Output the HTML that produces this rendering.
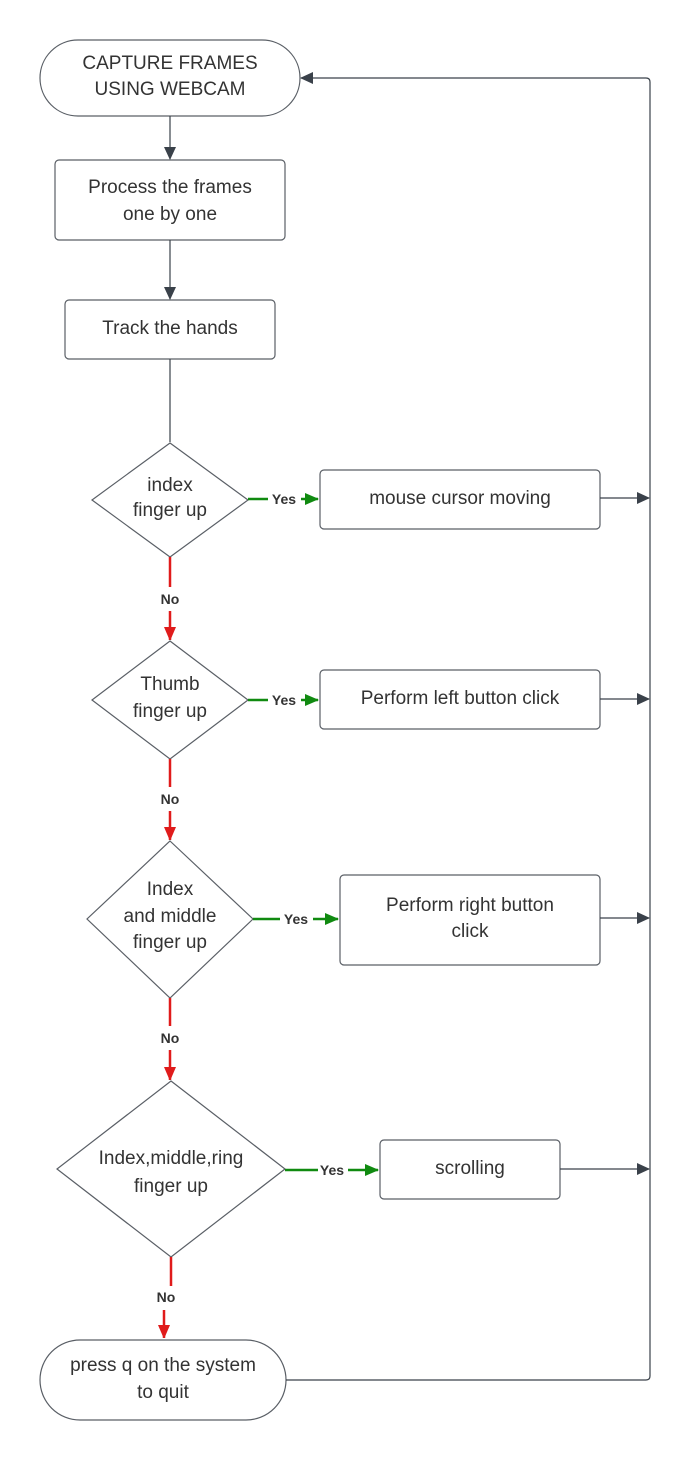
<!DOCTYPE html>
<html><head><meta charset="utf-8"><style>
html,body{margin:0;padding:0;background:#fff;}
svg text{font-family:"Liberation Sans",sans-serif;fill:#333;}
</style></head><body>
<svg width="691" height="1460" viewBox="0 0 691 1460" xmlns="http://www.w3.org/2000/svg">
<defs>
<marker id="ag" markerWidth="13" markerHeight="12" refX="12" refY="6" orient="auto" markerUnits="userSpaceOnUse"><path d="M0,0 L13,6 L0,12 z" fill="#3a414a"/></marker>
<marker id="ar" markerWidth="12" markerHeight="14" refX="13" refY="6" orient="auto" markerUnits="userSpaceOnUse"><path d="M0,0 L14,6 L0,12 z" fill="#e01b1b"/></marker>
<marker id="agr" markerWidth="14" markerHeight="12" refX="13" refY="6" orient="auto" markerUnits="userSpaceOnUse"><path d="M0,0 L14,6 L0,12 z" fill="#108a10"/></marker>
</defs>
<g fill="#fff" stroke="#5a5f66" stroke-width="1.2">
<rect x="40" y="40" width="260" height="76" rx="38"/>
<rect x="55" y="160" width="230" height="80" rx="4"/>
<rect x="65" y="300" width="210" height="59" rx="4"/>
<polygon points="170,443 248,500 170,557 92,500"/>
<rect x="320" y="470" width="280" height="59" rx="4"/>
<polygon points="170,641 248,700 170,759 92,700"/>
<rect x="320" y="670" width="280" height="59" rx="4"/>
<polygon points="170,841 253,919 170,998 87,919"/>
<rect x="340" y="875" width="260" height="90" rx="4"/>
<polygon points="171,1081 285,1169 171,1257 57,1169"/>
<rect x="380" y="1140" width="180" height="59" rx="4"/>
<rect x="40" y="1340" width="246" height="80" rx="40"/>
</g>
<g stroke="#3a414a" stroke-width="1.2" fill="none">
<line x1="170" y1="116" x2="170" y2="159" marker-end="url(#ag)"/>
<line x1="170" y1="240" x2="170" y2="299" marker-end="url(#ag)"/>
<line x1="170" y1="359" x2="170" y2="442"/>
<line x1="600" y1="498" x2="649" y2="498" marker-end="url(#ag)"/>
<line x1="600" y1="699" x2="649" y2="699" marker-end="url(#ag)"/>
<line x1="600" y1="918" x2="649" y2="918" marker-end="url(#ag)"/>
<line x1="560" y1="1169" x2="649" y2="1169" marker-end="url(#ag)"/>
<path d="M286,1380 H646 Q650,1380 650,1376 V82 Q650,78 646,78 H301" marker-end="url(#ag)"/>
</g>
<g stroke="#108a10" stroke-width="2.5" fill="none">
<line x1="248" y1="499" x2="268" y2="499"/><line x1="301" y1="499" x2="318" y2="499" marker-end="url(#agr)"/>
<line x1="248" y1="700" x2="268" y2="700"/><line x1="301" y1="700" x2="318" y2="700" marker-end="url(#agr)"/>
<line x1="253" y1="919" x2="280" y2="919"/><line x1="313" y1="919" x2="338" y2="919" marker-end="url(#agr)"/>
<line x1="285" y1="1170" x2="318" y2="1170"/><line x1="348" y1="1170" x2="378" y2="1170" marker-end="url(#agr)"/>
</g>
<g stroke="#e01b1b" stroke-width="2.5" fill="none">
<line x1="170" y1="557" x2="170" y2="587"/><line x1="170" y1="611" x2="170" y2="640" marker-end="url(#ar)"/>
<line x1="170" y1="759" x2="170" y2="787"/><line x1="170" y1="811" x2="170" y2="840" marker-end="url(#ar)"/>
<line x1="170" y1="998" x2="170" y2="1026"/><line x1="170" y1="1050" x2="170" y2="1080" marker-end="url(#ar)"/>
<line x1="171" y1="1257" x2="171" y2="1286"/><line x1="164" y1="1310" x2="164" y2="1338" marker-end="url(#ar)"/>
</g>
<g font-size="19" text-anchor="middle">
<text x="170" y="69">CAPTURE FRAMES</text><text x="170" y="95">USING WEBCAM</text>
<text x="170" y="193">Process the frames</text><text x="170" y="220">one by one</text>
<text x="170" y="334">Track the hands</text>
<text x="170" y="491">index</text><text x="170" y="516">finger up</text>
<text x="460" y="504">mouse cursor moving</text>
<text x="170" y="690">Thumb</text><text x="170" y="717">finger up</text>
<text x="460" y="704">Perform left button click</text>
<text x="170" y="895">Index</text><text x="170" y="922">and middle</text><text x="170" y="948">finger up</text>
<text x="470" y="911">Perform right button</text><text x="470" y="937">click</text>
<text x="171" y="1164">Index,middle,ring</text><text x="171" y="1192">finger up</text>
<text x="470" y="1174">scrolling</text>
<text x="163" y="1371">press q on the system</text><text x="163" y="1398">to quit</text>
</g>
<g font-size="14" font-weight="bold" text-anchor="middle">
<text x="284" y="504">Yes</text><text x="284" y="705">Yes</text><text x="296" y="924">Yes</text><text x="332" y="1175">Yes</text>
<text x="170" y="604">No</text><text x="170" y="804">No</text><text x="170" y="1043">No</text><text x="166" y="1302">No</text>
</g>
</svg>
</body></html>
